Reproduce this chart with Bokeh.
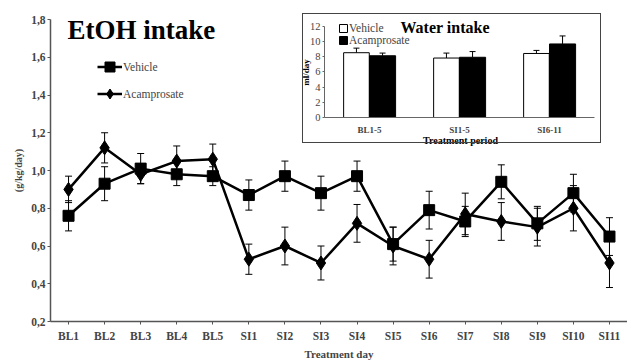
import math
from bokeh.plotting import figure
from bokeh.models import (ColumnDataSource, Whisker, TeeHead, Label, Legend, LegendItem,
                          FixedTicker, GridBox, Range1d, FactorRange)
from bokeh.transform import dodge
from bokeh.embed import file_html
from bokeh.resources import INLINE

FONT = "Liberation Serif"

# ---- main chart data (EtOH intake, g/kg/day) ----
days = ["BL1", "BL2", "BL3", "BL4", "BL5", "SI1", "SI2", "SI3", "SI4", "SI5",
        "SI6", "SI7", "SI8", "SI9", "SI10", "SI11"]
vehicle = [0.76, 0.93, 1.01, 0.98, 0.97, 0.87, 0.97, 0.88, 0.97, 0.61, 0.79, 0.73, 0.94, 0.72, 0.88, 0.65]
vehicle_err = [0.08, 0.09, 0.08, 0.06, 0.05, 0.08, 0.08, 0.09, 0.08, 0.09, 0.10, 0.08, 0.09, 0.09, 0.10, 0.10]
acamprosate = [0.90, 1.12, 0.98, 1.05, 1.06, 0.53, 0.60, 0.51, 0.72, 0.60, 0.53, 0.77, 0.73, 0.70, 0.80, 0.51]
acamprosate_err = [0.07, 0.08, 0.05, 0.08, 0.08, 0.08, 0.10, 0.09, 0.10, 0.10, 0.10, 0.11, 0.10, 0.10, 0.12, 0.13]
y_ticks = [0.2, 0.4, 0.6, 0.8, 1.0, 1.2, 1.4, 1.6, 1.8]
y_tick_labels = ["0,2", "0,4", "0,6", "0,8", "1,0", "1,2", "1,4", "1,6", "1,8"]

# ---- inset data (Water intake, ml/day) ----
periods = ["BL1-5", "SI1-5", "SI6-11"]
water_vehicle = [8.5, 7.8, 8.4]
water_vehicle_err = [0.6, 0.65, 0.4]
water_acamprosate = [8.1, 7.9, 9.65]
water_acamprosate_err = [0.35, 0.75, 1.05]
w_ticks = [0, 2, 4, 6, 8, 10, 12]

src = ColumnDataSource(dict(
    day=days,
    veh=vehicle,
    veh_lo=[v - e for v, e in zip(vehicle, vehicle_err)],
    veh_hi=[v + e for v, e in zip(vehicle, vehicle_err)],
    aca=acamprosate,
    aca_lo=[v - e for v, e in zip(acamprosate, acamprosate_err)],
    aca_hi=[v + e for v, e in zip(acamprosate, acamprosate_err)],
))

p = figure(width=627, height=362, x_range=FactorRange(factors=days, range_padding=0),
           y_range=Range1d(0.2, 1.8), output_backend="svg", toolbar_location=None,
           min_border_left=50, min_border_right=0, min_border_top=19, min_border_bottom=40)
p.outline_line_color = None
p.grid.visible = False
p.background_fill_color = "white"
p.border_fill_color = "white"

r1 = p.line("day", "veh", source=src, line_color="black", line_width=2.5)
r2 = p.scatter("day", "veh", source=src, marker="square", size=11, color="black")
r3 = p.line("day", "aca", source=src, line_color="black", line_width=2.5)
r4 = p.scatter("day", "aca", source=src, marker="diamond", size=14, color="black")

for lo, hi in (("veh_lo", "veh_hi"), ("aca_lo", "aca_hi")):
    p.add_layout(Whisker(source=src, base="day", lower=lo, upper=hi, dimension="height",
                         line_color="black", line_width=1,
                         upper_head=TeeHead(size=7, line_color="black", line_width=1),
                         lower_head=TeeHead(size=7, line_color="black", line_width=1)))

leg = Legend(items=[LegendItem(label="Vehicle", renderers=[r1, r2]),
                    LegendItem(label="Acamprosate", renderers=[r3, r4])],
             location=(47, 214), glyph_width=25, glyph_height=27, label_height=27,
             spacing=0, padding=0, margin=0, label_standoff=1,
             label_text_font=FONT, label_text_font_size="11.5px",
             border_line_color=None, background_fill_alpha=0)
p.add_layout(leg)

p.add_layout(Label(x=17, y=292, x_units="screen", y_units="screen", text="EtOH intake",
                   text_font=FONT, text_font_size="27px", text_font_style="bold",
                   text_color="black", text_baseline="alphabetic"))

# inset axis titles (drawn on the main canvas, beneath the transparent inset)
p.add_layout(Label(x=255, y=249, x_units="screen", y_units="screen", text="ml/day",
                   angle=math.pi / 2, text_align="center", text_baseline="middle",
                   text_font=FONT, text_font_size="9px", text_font_style="bold",
                   text_color="black"))
p.add_layout(Label(x=410, y=181.5, x_units="screen", y_units="screen", text="Treatment period",
                   text_align="center", text_baseline="middle",
                   text_font=FONT, text_font_size="10px", text_font_style="bold",
                   text_color="black"))

xa = p.xaxis[0]
xa.axis_label = "Treatment day"
xa.axis_label_text_font = FONT
xa.axis_label_text_font_size = "11px"
xa.axis_label_text_font_style = "bold"
xa.axis_label_standoff = 3
xa.major_label_text_font = FONT
xa.major_label_text_font_size = "11.5px"
xa.major_label_text_font_style = "bold"
xa.major_label_standoff = 5
xa.major_tick_out = 3
xa.major_tick_in = 0
xa.axis_line_color = "#555555"
xa.axis_line_width = 1.5
xa.major_tick_line_color = "#555555"

ya = p.yaxis[0]
ya.ticker = FixedTicker(ticks=y_ticks)
ya.major_label_overrides = dict(zip(y_ticks, y_tick_labels))
ya.axis_label = "(g/kg/day)"
ya.axis_label_text_font = FONT
ya.axis_label_text_font_size = "10px"
ya.axis_label_text_font_style = "bold"
ya.axis_label_standoff = 4
ya.major_label_text_font = FONT
ya.major_label_text_font_size = "11.5px"
ya.major_label_text_font_style = "bold"
ya.major_label_standoff = 2
ya.major_tick_out = 3
ya.major_tick_in = 0
ya.minor_tick_line_color = None
ya.axis_line_color = "#555555"
ya.axis_line_width = 1.5
ya.major_tick_line_color = "#555555"

# ---- inset ----
wsrc = ColumnDataSource(dict(
    period=periods,
    veh=water_vehicle,
    veh_hi=[v + e for v, e in zip(water_vehicle, water_vehicle_err)],
    aca=water_acamprosate,
    aca_hi=[v + e for v, e in zip(water_acamprosate, water_acamprosate_err)],
))

q = figure(width=299, height=130, x_range=FactorRange(factors=periods, range_padding=0),
           y_range=Range1d(0, 13.25), output_backend="svg", toolbar_location=None,
           min_border_left=21, min_border_right=8, min_border_top=2, min_border_bottom=27,
           styles={"border": "1.5px solid #444444"})
q.outline_line_color = None
q.grid.visible = False
q.background_fill_alpha = 0
q.border_fill_alpha = 0

q.vbar(x=dodge("period", -0.145, range=q.x_range), top="veh", bottom=0, width=0.285, source=wsrc,
       fill_color="white", line_color="black", line_width=1, legend_label="Vehicle")
q.vbar(x=dodge("period", 0.145, range=q.x_range), top="aca", bottom=0, width=0.29, source=wsrc,
       fill_color="black", line_color="black", line_width=1, legend_label="Acamprosate")

for off, lo, hi in ((-0.145, "veh", "veh_hi"), (0.145, "aca", "aca_hi")):
    q.add_layout(Whisker(source=wsrc, base=dodge("period", off, range=q.x_range), lower=lo, upper=hi,
                         dimension="height", line_color="black", line_width=1,
                         upper_head=TeeHead(size=6, line_color="black", line_width=1),
                         lower_head=None))

ql = q.legend[0]
ql.location = (14, 71)
ql.glyph_width = 10
ql.glyph_height = 10
ql.label_height = 12
ql.spacing = 0
ql.padding = 0
ql.margin = 0
ql.label_standoff = 1
ql.label_text_font = FONT
ql.label_text_font_size = "11.5px"
ql.border_line_color = None
ql.background_fill_alpha = 0

q.add_layout(Label(x=76, y=90, x_units="screen", y_units="screen", text="Water intake",
                   text_font=FONT, text_font_size="16px", text_font_style="bold",
                   text_color="black", text_baseline="alphabetic"))

qx = q.xaxis[0]
qx.major_label_text_font = FONT
qx.major_label_text_font_size = "9px"
qx.major_label_text_font_style = "bold"
qx.major_label_standoff = 1
qx.major_tick_line_color = None
qx.axis_line_color = "#666666"

qy = q.yaxis[0]
qy.ticker = FixedTicker(ticks=w_ticks)
qy.bounds = (0, 12)
qy.major_label_text_font = FONT
qy.major_label_text_font_size = "10.5px"
qy.major_label_standoff = 2
qy.major_tick_out = 2
qy.major_tick_in = 0
qy.minor_tick_line_color = None
qy.axis_line_color = "#666666"
qy.major_tick_line_color = "#666666"

grid = GridBox(children=[(p, 0, 0, 3, 3), (q, 1, 1, 1, 1)],
               cols=["302px", "299px", "26px"], rows=["13px", "130px", "219px"])

open("out.html", "w").write(file_html(grid, INLINE))
